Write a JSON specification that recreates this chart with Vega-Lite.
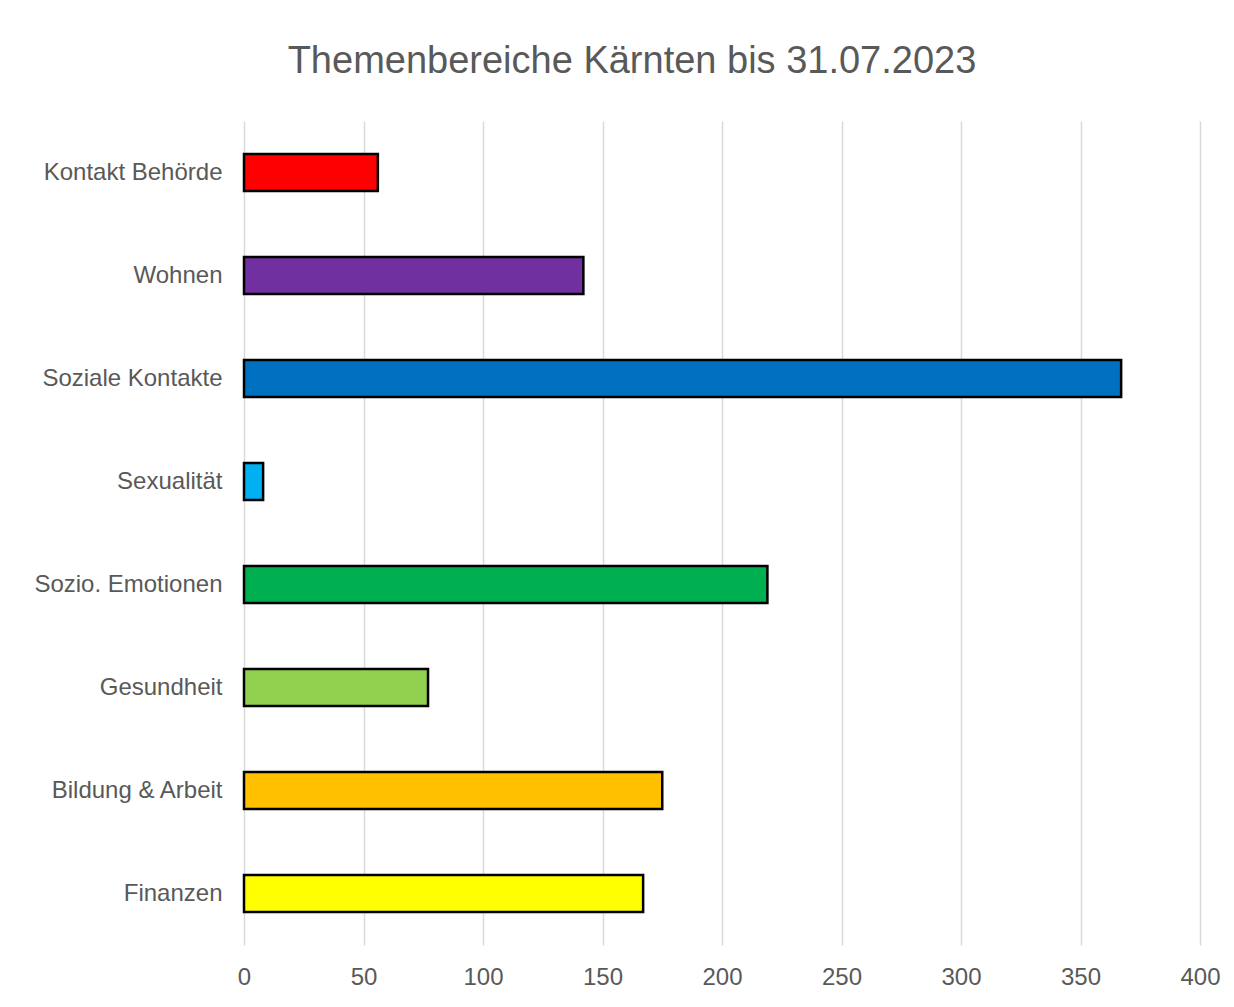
{
  "$schema": "https://vega.github.io/schema/vega-lite/v6.json",
  "autosize": {"type": "none"},
  "padding": {"left": 244, "top": 121, "right": 34, "bottom": 62},
  "width": 956,
  "height": 824,
  "background": "white",
  "title": {
    "text": "Themenbereiche Kärnten bis 31.07.2023",
    "font": "Liberation Sans",
    "fontSize": 38,
    "fontWeight": "normal",
    "color": "#595959",
    "anchor": "middle",
    "dx": -90,
    "offset": 40
  },
  "data": {
    "values": [
      {"thema": "Kontakt Behörde", "anzahl": 56, "farbe": "#FF0000"},
      {"thema": "Wohnen", "anzahl": 142, "farbe": "#7030A0"},
      {"thema": "Soziale Kontakte", "anzahl": 367, "farbe": "#0070C0"},
      {"thema": "Sexualität", "anzahl": 8, "farbe": "#00B0F0"},
      {"thema": "Sozio. Emotionen", "anzahl": 219, "farbe": "#00B050"},
      {"thema": "Gesundheit", "anzahl": 77, "farbe": "#92D050"},
      {"thema": "Bildung & Arbeit", "anzahl": 175, "farbe": "#FFC000"},
      {"thema": "Finanzen", "anzahl": 167, "farbe": "#FFFF00"}
    ]
  },
  "mark": {"type": "bar", "stroke": "black", "strokeWidth": 2.5},
  "encoding": {
    "y": {
      "field": "thema",
      "type": "nominal",
      "sort": null,
      "scale": {"paddingInner": 0.64, "paddingOuter": 0.32},
      "axis": {
        "title": null,
        "ticks": false,
        "domain": false,
        "labelFont": "Liberation Sans",
        "labelFontSize": 24,
        "labelColor": "#595959",
        "labelPadding": 22,
        "labelLimit": 300
      }
    },
    "x": {
      "field": "anzahl",
      "type": "quantitative",
      "scale": {"domain": [0, 400], "nice": false},
      "axis": {
        "title": null,
        "values": [0, 50, 100, 150, 200, 250, 300, 350, 400],
        "ticks": false,
        "domain": false,
        "grid": true,
        "gridColor": "#D9D9D9",
        "gridWidth": 1.5,
        "labelFont": "Liberation Sans",
        "labelFontSize": 24,
        "labelColor": "#595959",
        "labelPadding": 20,
        "labelFlush": false
      }
    },
    "color": {"field": "farbe", "type": "nominal", "scale": null, "legend": null}
  },
  "config": {"view": {"stroke": null}}
}
